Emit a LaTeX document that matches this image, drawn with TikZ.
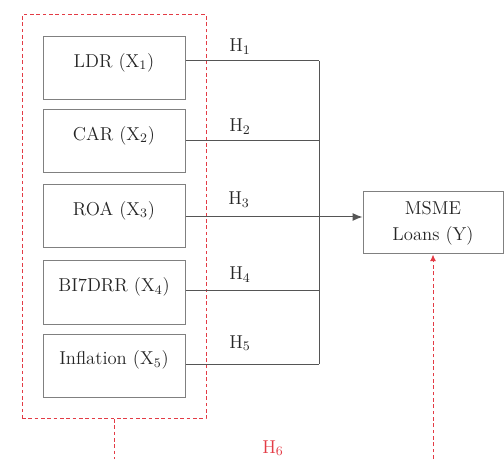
\documentclass[tikz,border=0pt]{standalone}
\usepackage{xcolor}
\usepackage{tikz}
\usetikzlibrary{fit, positioning, arrows.meta}
\definecolor{boxgray}{HTML}{808080}
\definecolor{linegray}{HTML}{555555}
\definecolor{textgray}{HTML}{252525}
\definecolor{hred}{HTML}{E33B45}

\begin{document}
\begin{tikzpicture}[x=0.6pt, y=-0.6pt, font=\fontsize{11.2}{15.6}\selectfont, text=textgray,
  varbox/.style={draw=boxgray, line width=0.6pt, minimum width=85.2pt, minimum height=37.8pt, text height=0.75em, text depth=0.85em, inner sep=0pt},
  ybox/.style={draw=boxgray, line width=0.6pt, minimum width=84pt, minimum height=37.2pt, align=center, inner sep=0pt},
  hlabel/.style={anchor=base, inner sep=0pt},
  link/.style={draw=linegray, line width=0.6pt},
  reddash/.style={draw=hred, line width=0.6pt, dash pattern=on 2.2pt off 1.6pt}]
\useasboundingbox (0,0) rectangle (504,459);
% independent variables
\node[varbox] (ldr) at (114,68) {LDR (X\textsubscript{1})};
\node[varbox] (car) at (114,141) {CAR (X\textsubscript{2})};
\node[varbox] (roa) at (114,216) {ROA (X\textsubscript{3})};
\node[varbox] (bi) at (114,292.5) {BI7DRR (X\textsubscript{4})};
\node[varbox] (infl) at (114,365.5) {Inflation (X\textsubscript{5})};
\node[reddash, fit=(ldr)(infl), inner xsep=12.3pt, inner ysep=12.6pt] (grp) {};
% dependent variable
\node[ybox] (msme) at (433,223) {MSME\\Loans (Y)};
% joining line
\coordinate (b1) at (319,61);
\coordinate (b2) at (319,141);
\coordinate (b3) at (319,217);
\coordinate (b4) at (319,290);
\coordinate (b5) at (319,364);
\draw[link] (ldr.east |- b1) -- (b1);
\draw[link] (car.east |- b2) -- (b2);
\draw[link] (roa.east |- b3) -- (b3);
\draw[link] (bi.east |- b4) -- (b4);
\draw[link] (infl.east |- b5) -- (b5);
\draw[link] (b1) -- (b5);
\draw[link, -{Latex[length=6pt, width=4.8pt]}] (b3) -- (b3 -| msme.west);
\node[hlabel] (h1) at (240,52) {H\textsubscript{1}};
\node[hlabel] (h2) at (240,132) {H\textsubscript{2}};
\node[hlabel] (h3) at (239,205) {H\textsubscript{3}};
\node[hlabel] (h4) at (240,280) {H\textsubscript{4}};
\node[hlabel] (h5) at (240,348) {H\textsubscript{5}};
% simultaneous effect
\coordinate (low) at (273,463);
\draw[reddash, -{Latex[length=4pt, width=3.6pt]}] (grp.south) |- (low) -| (msme.south);
\node[hlabel, text=hred] (h6) at (273,453) {H\textsubscript{6}};
\end{tikzpicture}
\end{document}
